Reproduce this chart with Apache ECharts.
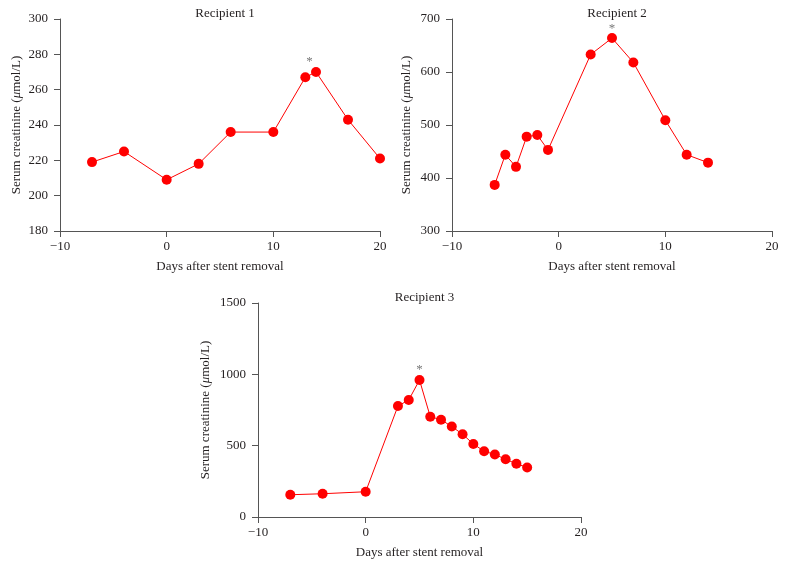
<!DOCTYPE html>
<html><head><meta charset="utf-8">
<script src="https://cdn.jsdelivr.net/npm/echarts@6/dist/echarts.min.js"></script>
<style>html,body{margin:0;padding:0;background:#fff}#c{width:786px;height:570px}</style>
</head><body><div id="c"></div>
<script>
// Recipient 1
const days1 = [-7, -4, 0, 3, 6, 10, 13, 14, 17, 20];
const creat1 = [219, 225, 209, 218, 236, 236, 267, 270, 243, 221];
const star1 = [[13.4, 276]];
// Recipient 2
const days2 = [-6, -5, -4, -3, -2, -1, 3, 5, 7, 10, 12, 14];
const creat2 = [387, 444, 421, 478, 481, 453, 633, 664, 618, 509, 444, 429];
const star2 = [[5, 681]];
// Recipient 3
const days3 = [-7, -4, 0, 3, 4, 5, 6, 7, 8, 9, 10, 11, 12, 13, 14, 15];
const creat3 = [156, 163, 177, 778, 820, 960, 703, 682, 634, 580, 512, 461, 438, 405, 373, 347];
const star3 = [[5, 1032]];

const titles = ['Recipient 1', 'Recipient 2', 'Recipient 3'];
const xName = 'Days after stent removal';
const yName = 'Serum creatinine ({i|μ}mol/L)';
const yRanges = [[180, 300, 20], [300, 700, 100], [0, 1500, 500]];
const xRange = [-10, 20, 10];

const FONT = '"Liberation Serif", "DejaVu Serif", serif';
const TXT = '#231f20';
const AX = '#555';

const grids = [
  {left: 60, top: 19, width: 320, height: 212},
  {left: 452, top: 19, width: 320, height: 212},
  {left: 258, top: 303, width: 323, height: 214}
];
const yGaps = [37, 39, 46];

const chart = echarts.init(document.getElementById('c'));
const pairs = (xs, ys) => xs.map((x, i) => [x, ys[i]]);
const seriesData = [pairs(days1, creat1), pairs(days2, creat2), pairs(days3, creat3)];
const stars = [star1, star2, star3];

const option = {
  animation: false,
  textStyle: {fontFamily: FONT},
  title: grids.map((g, i) => ({
    text: titles[i],
    left: g.left + g.width / 2,
    textAlign: 'center',
    top: g.top - 17,
    textStyle: {fontFamily: FONT, fontSize: 13, fontWeight: 'normal', color: TXT}
  })),
  grid: grids,
  xAxis: grids.map((g, i) => ({
    gridIndex: i, type: 'value', min: xRange[0], max: xRange[1], interval: xRange[2],
    name: xName, nameLocation: 'middle', nameGap: 29,
    nameTextStyle: {fontFamily: FONT, fontSize: 13, color: TXT},
    axisLine: {show: true, onZero: false, lineStyle: {color: AX, width: 1}},
    axisTick: {show: true, length: 6, lineStyle: {color: AX}},
    axisLabel: {fontFamily: FONT, fontSize: 13, color: TXT, margin: 9,
      formatter: v => String(v).replace('-', '\u2212')},
    splitLine: {show: false}
  })),
  yAxis: grids.map((g, i) => ({
    gridIndex: i, type: 'value', min: yRanges[i][0], max: yRanges[i][1], interval: yRanges[i][2],
    name: yName, nameLocation: 'middle', nameGap: yGaps[i], nameRotate: 90,
    nameTextStyle: {fontFamily: FONT, fontSize: 13, color: TXT,
      rich: {i: {fontFamily: FONT, fontSize: 13, fontStyle: 'italic', color: TXT}}},
    axisLine: {show: true, onZero: false, lineStyle: {color: AX, width: 1}},
    axisTick: {show: true, length: 6, lineStyle: {color: AX}},
    axisLabel: {fontFamily: FONT, fontSize: 13, color: TXT, margin: 12,
      formatter: v => String(v)},
    splitLine: {show: false}
  })),
  series: [].concat(
    seriesData.map((d, i) => ({
      type: 'line', xAxisIndex: i, yAxisIndex: i, data: d,
      symbol: 'circle', symbolSize: 10,
      lineStyle: {color: '#ff0000', width: 1},
      itemStyle: {color: '#ff0000'}
    })),
    stars.map((s, i) => ({
      type: 'scatter', xAxisIndex: i, yAxisIndex: i, data: s,
      symbolSize: 0,
      label: {show: true, position: 'inside', formatter: '*', fontFamily: FONT, fontSize: 13, color: '#555'}
    }))
  )
};
chart.setOption(option);
</script></body></html>
